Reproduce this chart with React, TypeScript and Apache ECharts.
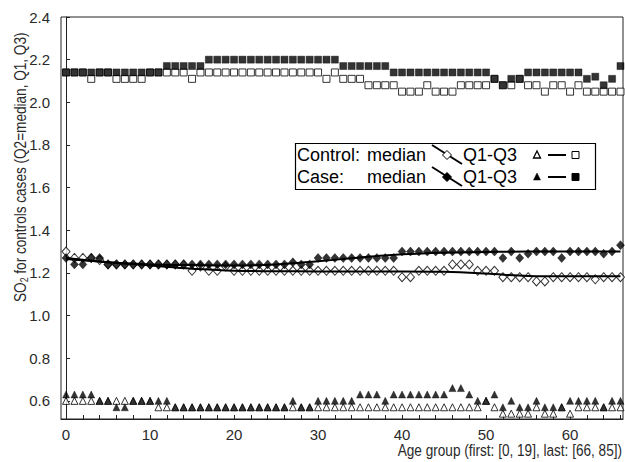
import React, { useEffect, useRef } from "react";
import * as echarts from "echarts";

// x positions (age-group index)
const ages = [
  0, 1, 2, 3, 4, 5, 6, 7, 8, 9, 10, 11, 12, 13, 14, 15, 16, 17, 18, 19, 20, 21, 22,
  23, 24, 25, 26, 27, 28, 29, 30, 31, 32, 33, 34, 35, 36, 37, 38, 39, 40, 41, 42, 43,
  44, 45, 46, 47, 48, 49, 50, 51, 52, 53, 54, 55, 56, 57, 58, 59, 60, 61, 62, 63, 64,
  65, 66,
];

const xTickValues = [0, 2, 4, 6, 8, 10, 12, 14, 16, 18, 20, 22, 24, 26, 28, 30, 32, 34, 36, 38, 40, 42, 44, 46, 48, 50, 52, 54, 56, 58, 60, 62, 64, 66];
const xLabelValues = [0, 10, 20, 30, 40, 50, 60];
const yLabelValues = [0.6, 0.8, 1.0, 1.2, 1.4, 1.6, 1.8, 2.0, 2.2, 2.4];

// Q3 (squares)
const controlQ3 = [
  2.14, 2.14, 2.14, 2.11, 2.14, 2.14, 2.11, 2.11, 2.11, 2.11,
  2.14, 2.14, 2.14, 2.14, 2.14, 2.11, 2.14, 2.14, 2.14, 2.14,
  2.14, 2.14, 2.14, 2.14, 2.14, 2.14, 2.14, 2.14, 2.14, 2.14,
  2.14, 2.11, 2.14, 2.11, 2.11, 2.11, 2.08, 2.08, 2.08, 2.08,
  2.05, 2.05, 2.05, 2.08, 2.05, 2.05, 2.05, 2.08, 2.08, 2.08,
  2.08, 2.11, 2.08, 2.08, 2.11, 2.08, 2.08, 2.05, 2.08, 2.08,
  2.05, 2.08, 2.05, 2.05, 2.05, 2.05, 2.05,
];
const caseQ3 = [
  2.14, 2.14, 2.14, 2.14, 2.14, 2.14, 2.14, 2.14, 2.14, 2.14,
  2.14, 2.14, 2.17, 2.17, 2.17, 2.17, 2.17, 2.2, 2.2, 2.2,
  2.2, 2.2, 2.2, 2.2, 2.2, 2.2, 2.2, 2.2, 2.2, 2.2,
  2.2, 2.2, 2.2, 2.17, 2.17, 2.17, 2.17, 2.17, 2.17, 2.14,
  2.14, 2.14, 2.14, 2.14, 2.14, 2.14, 2.14, 2.14, 2.14, 2.14,
  2.14, 2.11, 2.08, 2.11, 2.11, 2.14, 2.14, 2.14, 2.14, 2.14,
  2.14, 2.14, 2.11, 2.12, 2.08, 2.11, 2.17,
];

// medians (diamonds)
const controlMedian = [
  1.3, 1.27, 1.27, 1.27, 1.26, 1.24, 1.24, 1.24, 1.24, 1.24,
  1.24, 1.24, 1.24, 1.24, 1.24, 1.21, 1.23, 1.21, 1.21, 1.23,
  1.21, 1.21, 1.21, 1.21, 1.21, 1.21, 1.21, 1.21, 1.21, 1.21,
  1.21, 1.21, 1.21, 1.21, 1.21, 1.21, 1.21, 1.21, 1.21, 1.21,
  1.18, 1.18, 1.21, 1.21, 1.21, 1.21, 1.24, 1.24, 1.24, 1.21,
  1.21, 1.21, 1.18, 1.18, 1.18, 1.18, 1.16, 1.16, 1.18, 1.18,
  1.18, 1.18, 1.18, 1.17, 1.18, 1.18, 1.18,
];
const caseMedian = [
  1.27, 1.24, 1.24, 1.27, 1.27, 1.24, 1.24, 1.24, 1.24, 1.24,
  1.24, 1.24, 1.24, 1.24, 1.24, 1.24, 1.24, 1.24, 1.24, 1.24,
  1.24, 1.24, 1.24, 1.24, 1.24, 1.24, 1.24, 1.25, 1.24, 1.24,
  1.27, 1.27, 1.27, 1.27, 1.27, 1.27, 1.27, 1.27, 1.27, 1.27,
  1.3, 1.3, 1.3, 1.3, 1.3, 1.3, 1.3, 1.3, 1.3, 1.3,
  1.3, 1.3, 1.27, 1.3, 1.27, 1.29, 1.3, 1.3, 1.3, 1.27,
  1.3, 1.3, 1.3, 1.3, 1.29, 1.3, 1.33,
];

// smoothed median curves (knots)
const controlCurveX = [0, 5, 10, 15, 20, 25, 30, 35, 40, 45, 50, 55, 60, 66];
const controlCurveY = [1.27, 1.25, 1.235, 1.22, 1.21, 1.208, 1.207, 1.207, 1.207, 1.205, 1.197, 1.186, 1.184, 1.184];
const caseCurveX = [0, 5, 10, 15, 20, 25, 30, 35, 40, 45, 50, 55, 60, 66];
const caseCurveY = [1.265, 1.25, 1.24, 1.237, 1.235, 1.24, 1.255, 1.272, 1.287, 1.295, 1.298, 1.3, 1.3, 1.3];

// Q1 (triangles)
const controlQ1 = [
  0.6, 0.6, 0.6, 0.6, 0.6, 0.6, 0.6, 0.6, 0.6, 0.6,
  0.6, 0.57, 0.57, 0.57, 0.57, 0.57, 0.57, 0.57, 0.57, 0.57,
  0.57, 0.57, 0.57, 0.57, 0.57, 0.57, 0.57, 0.57, 0.57, 0.57,
  0.57, 0.57, 0.57, 0.57, 0.57, 0.57, 0.57, 0.57, 0.57, 0.57,
  0.57, 0.57, 0.57, 0.57, 0.57, 0.57, 0.57, 0.57, 0.57, 0.57,
  0.6, 0.57, 0.54, 0.54, 0.54, 0.54, 0.57, 0.54, 0.54, 0.57,
  0.54, 0.57, 0.57, 0.57, 0.57, 0.57, 0.57,
];
const caseQ1 = [
  0.63, 0.63, 0.63, 0.63, 0.6, 0.6, 0.57, 0.57, 0.6, 0.6,
  0.6, 0.6, 0.6, 0.57, 0.57, 0.57, 0.57, 0.57, 0.57, 0.57,
  0.57, 0.57, 0.57, 0.57, 0.57, 0.57, 0.57, 0.6, 0.57, 0.57,
  0.6, 0.6, 0.6, 0.6, 0.6, 0.63, 0.63, 0.63, 0.6, 0.63,
  0.63, 0.63, 0.63, 0.63, 0.63, 0.63, 0.66, 0.66, 0.63, 0.6,
  0.6, 0.63, 0.57, 0.6, 0.57, 0.57, 0.6, 0.57, 0.57, 0.57,
  0.6, 0.6, 0.6, 0.6, 0.57, 0.6, 0.6,
];

const FONT = "'Liberation Sans', Arial, Helvetica, sans-serif";
const INK = "#000";
const LABEL = "#2a2a2a";

const pts = (ys: number[]) => ys.map((v, i) => [ages[i], v]);
const curve = (xs: number[], ys: number[]) => xs.map((x, i) => [x, ys[i]]);

export default function App() {
  const ref = useRef<HTMLDivElement>(null);
  useEffect(() => {
    if (!ref.current) return;
    const chart = echarts.init(ref.current, null, { renderer: "svg" });

    const openStyle = { color: "#fff", borderColor: INK, borderWidth: 1 };
    const fillStyle = { color: "#000", borderColor: "#000", borderWidth: 0.5 };

    const legendRow = (y: number, label: string, filled: boolean) => [
      { type: "text", x: 297, y, style: { text: label, font: `18px ${FONT}`, fill: INK, verticalAlign: "middle" } },
      { type: "text", x: 367, y, style: { text: "median", font: `18px ${FONT}`, fill: INK, verticalAlign: "middle" } },
      { type: "line", shape: { x1: 432, y1: y - 10, x2: 462, y2: y + 9 }, style: { stroke: INK, lineWidth: 2 } },
      {
        type: "polygon",
        shape: { points: [[447, y - 4.5], [451.5, y], [447, y + 4.5], [442.5, y]] },
        style: { fill: filled ? INK : "#fff", stroke: INK, lineWidth: 1 },
      },
      { type: "text", x: 463, y, style: { text: "Q1-Q3", font: `18px ${FONT}`, fill: INK, verticalAlign: "middle" } },
      {
        type: "polygon",
        shape: { points: [[537, y - 4], [540.5, y + 3], [533.5, y + 3]] },
        style: { fill: filled ? INK : "#fff", stroke: INK, lineWidth: filled ? 0.5 : 1.3 },
      },
      { type: "line", shape: { x1: 548, y1: y, x2: 566, y2: y }, style: { stroke: INK, lineWidth: 2 } },
      {
        type: "rect",
        shape: { x: 572, y: y - 3.5, width: 7, height: 7 },
        style: { fill: filled ? INK : "#fff", stroke: INK, lineWidth: 1 },
      },
    ];

    chart.setOption({
      animation: false,
      backgroundColor: "#fff",
      grid: { left: 61, right: 2, top: 17, bottom: 43, show: true, borderColor: "#222", borderWidth: 1, backgroundColor: "transparent" },
      xAxis: {
        type: "value",
        min: -0.6,
        max: 66.3,
        axisLine: { show: true, lineStyle: { color: "#222", width: 1 } },
        axisTick: { show: true, inside: true, length: 4, customValues: xTickValues, lineStyle: { color: "#222" } },
        axisLabel: { customValues: xLabelValues, color: LABEL, fontFamily: FONT, fontSize: 15, lineHeight: 15, margin: 8 },
        splitLine: { show: false },
      },
      yAxis: {
        type: "value",
        min: 0.515,
        max: 2.4,
        axisLine: { show: true, lineStyle: { color: "#222", width: 1 } },
        axisTick: { show: true, inside: true, length: 4, customValues: yLabelValues, lineStyle: { color: "#222" } },
        axisLabel: {
          customValues: yLabelValues,
          color: LABEL,
          fontFamily: FONT,
          fontSize: 15,
          margin: 11,
          formatter: (v: number) => v.toFixed(1),
        },
        splitLine: { show: false },
      },
      series: [
        { name: "Control Q3", type: "scatter", symbol: "rect", symbolSize: 7, data: pts(controlQ3), itemStyle: openStyle, z: 2 },
        { name: "Case Q3", type: "scatter", symbol: "rect", symbolSize: 7, data: pts(caseQ3), itemStyle: fillStyle, z: 3 },
        { name: "Control median", type: "scatter", symbol: "diamond", symbolSize: [8, 9], data: pts(controlMedian), itemStyle: openStyle, z: 2 },
        { name: "Case median", type: "scatter", symbol: "diamond", symbolSize: [8, 9], data: pts(caseMedian), itemStyle: fillStyle, z: 3 },
        {
          name: "Control curve", type: "line", data: curve(controlCurveX, controlCurveY), smooth: 0.4, showSymbol: false,
          lineStyle: { color: INK, width: 2 }, z: 4,
        },
        {
          name: "Case curve", type: "line", data: curve(caseCurveX, caseCurveY), smooth: 0.4, showSymbol: false,
          lineStyle: { color: INK, width: 2 }, z: 4,
        },
        { name: "Control Q1", type: "scatter", symbol: "triangle", symbolSize: [7, 7], data: pts(controlQ1), itemStyle: openStyle, z: 2 },
        { name: "Case Q1", type: "scatter", symbol: "triangle", symbolSize: [7, 7], data: pts(caseQ1), itemStyle: fillStyle, z: 3 },
      ],
      graphic: [
        {
          type: "group",
          z: 100,
          children: [
            { type: "rect", shape: { x: 295.5, y: 143.5, width: 300, height: 46 }, style: { fill: "#fff", stroke: INK, lineWidth: 1.2 } },
            ...legendRow(155, "Control:", false),
            ...legendRow(177, "Case:", true),
          ],
        },
        {
          type: "text",
          x: 20,
          y: 302,
          rotation: Math.PI / 2,
          scaleX: 0.8,
          style: {
            text: "{a|SO}{s|2}{a| for controls cases (Q2=median, Q1, Q3)}",
            align: "left",
            verticalAlign: "middle",
            fill: LABEL,
            rich: {
              a: { fontFamily: FONT, fontSize: 17, fill: LABEL },
              s: { fontFamily: FONT, fontSize: 11, fill: LABEL, padding: [9, 0, 0, 0] },
            },
          },
        },
        {
          type: "text",
          x: 622,
          y: 450,
          scaleX: 0.8,
          style: {
            text: "Age group (first: [0, 19], last: [66, 85])",
            font: `17px ${FONT}`,
            lineHeight: 15,
            fill: LABEL,
            align: "right",
            verticalAlign: "middle",
          },
        },
      ],
    });
    return () => chart.dispose();
  }, []);
  return <div ref={ref} style={{ position: "fixed", left: 0, top: 0, width: 625, height: 462 }} />;
}
